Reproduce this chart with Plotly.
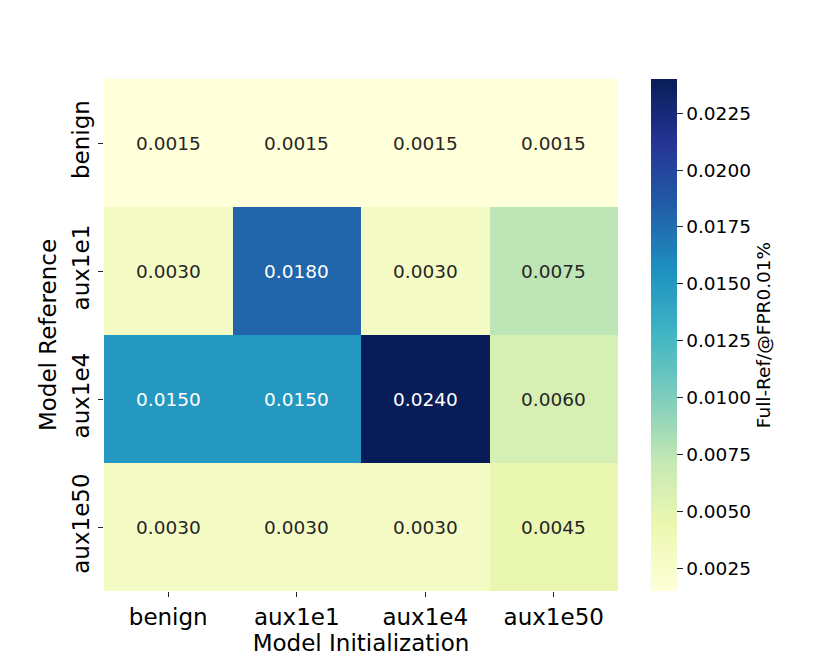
import plotly.graph_objects as go

# heatmap values
init_labels = ["benign", "aux1e1", "aux1e4", "aux1e50"]
ref_labels = ["benign", "aux1e1", "aux1e4", "aux1e50"]
row_benign = [0.0015, 0.0015, 0.0015, 0.0015]
row_aux1e1 = [0.0030, 0.0180, 0.0030, 0.0075]
row_aux1e4 = [0.0150, 0.0150, 0.0240, 0.0060]
row_aux1e50 = [0.0030, 0.0030, 0.0030, 0.0045]
cbar_ticks = [0.0025, 0.0050, 0.0075, 0.0100, 0.0125, 0.0150, 0.0175, 0.0200, 0.0225]

z = [row_benign, row_aux1e1, row_aux1e4, row_aux1e50]

# matplotlib YlGnBu (colorbrewer 9 stops)
ylgnbu = ["#ffffd9", "#edf8b1", "#c7e9b4", "#7fcdbb", "#41b6c4",
          "#1d91c0", "#225ea8", "#253494", "#081d58"]
cscale = [[i / 8, c] for i, c in enumerate(ylgnbu)]

font_family = "DejaVu Sans"
zmin = min(min(r) for r in z)
zmax = max(max(r) for r in z)

fig = go.Figure(
    go.Heatmap(
        z=z,
        x=init_labels,
        y=ref_labels,
        colorscale=cscale,
        zmin=zmin,
        zmax=zmax,
        hovertemplate="%{y} / %{x}: %{z:.4f}<extra></extra>",
        colorbar=dict(
            x=1.064,
            xanchor="left",
            xpad=0,
            y=0.5,
            yanchor="middle",
            ypad=0,
            len=1,
            lenmode="fraction",
            thickness=26,
            outlinewidth=0,
            tickvals=cbar_ticks,
            tickformat=".4f",
            ticks="outside",
            ticklen=6,
            tickcolor="#222",
            tickfont=dict(family=font_family, size=18.5, color="black"),
            title=dict(
                text="Full-Ref/@FPR0.01%",
                side="right",
                font=dict(family=font_family, size=18.5, color="black"),
            ),
        ),
    )
)

# cell labels, white on dark cells like seaborn annot
for i, row in enumerate(z):
    for j, v in enumerate(row):
        fig.add_annotation(
            x=init_labels[j],
            y=ref_labels[i],
            text=f"{v:.4f}",
            showarrow=False,
            font=dict(family=font_family, size=18.5,
                      color="white" if v > 0.012 else "#262626"),
        )

# page body adds 8px, so margins are trimmed by that
fig.update_layout(
    width=830,
    height=664,
    plot_bgcolor="white",
    paper_bgcolor="white",
    margin=dict(l=96, r=220, t=71, b=81),
    font=dict(family=font_family, color="black"),
)
fig.update_xaxes(
    title=dict(text="Model Initialization", font=dict(size=23), standoff=4),
    tickfont=dict(size=23),
    ticks="outside",
    ticklen=5,
    tickcolor="#222",
    showgrid=False,
    zeroline=False,
    showline=False,
)
fig.update_yaxes(
    title=dict(text="Model Reference", font=dict(size=23), standoff=4),
    tickfont=dict(size=23),
    tickangle=-90,
    ticks="outside",
    ticklen=5,
    tickcolor="#222",
    autorange="reversed",
    showgrid=False,
    zeroline=False,
    showline=False,
)

fig.write_html("out.html")
